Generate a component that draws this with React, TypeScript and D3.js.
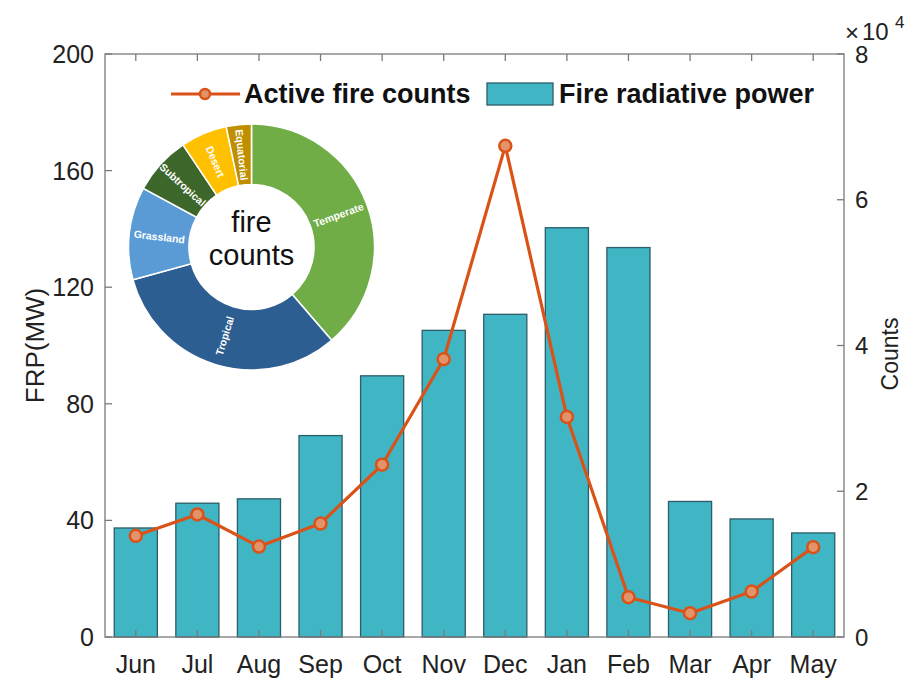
import React from "react";
import * as d3 from "d3";

const months = ["Jun", "Jul", "Aug", "Sep", "Oct", "Nov", "Dec", "Jan", "Feb", "Mar", "Apr", "May"];
const frp = [37.4, 45.9, 47.4, 69.1, 89.6, 105.2, 110.7, 140.4, 133.6, 46.5, 40.5, 35.7];
const fireCounts = [13880, 16810, 12410, 15570, 23640, 38120, 67400, 30200, 5460, 3260, 6230, 12330];
const leftTicks = [0, 40, 80, 120, 160, 200];
const rightTicks = [0, 2, 4, 6, 8];

const zoneNames = ["Temperate", "Tropical", "Grassland", "Subtropical", "Desert", "Equatorial"];
const zoneShares = [38.7, 32.0, 12.2, 7.7, 6.1, 3.3];
const zoneColors = ["#70AD47", "#2D5E91", "#5B9BD5", "#3D662B", "#FFC000", "#BF8F00"];

const W = 911;
const H = 679;
const L = 105;
const R = 844;
const T = 54;
const B = 637;
const FONT = "'Liberation Sans', Arial, sans-serif";
const AXIS = "#7a7a7a";

export default function App() {
  const x = d3.scaleLinear().domain([0.5, 12.5]).range([L, R]);
  const yL = d3.scaleLinear().domain([0, 200]).range([B, T]);
  const yR = d3.scaleLinear().domain([0, 80000]).range([B, T]);
  const step = x(2) - x(1);
  const bw = step * 0.7;

  const line = d3
    .line<number>()
    .x((_, i) => x(i + 1))
    .y((d) => yR(d));

  const cx = 251.5;
  const cy = 247;
  const rOut = 123;
  const rIn = 62.5;
  const pie = d3.pie<number>().sort(null).startAngle(0).endAngle(2 * Math.PI)(zoneShares);
  const arc = d3.arc<d3.PieArcDatum<number>>().innerRadius(rIn).outerRadius(rOut);
  const rLab = (rIn + rOut) / 2;

  return (
    <svg width={W} height={H} style={{ position: "absolute", left: 0, top: 0 }} fontFamily={FONT}>
      <rect x={0} y={0} width={W} height={H} fill="#fff" />
      {/* bars */}
      {frp.map((v, i) => (
        <rect
          key={"b" + i}
          x={x(i + 1) - bw / 2}
          y={yL(v)}
          width={bw}
          height={yL(0) - yL(v)}
          fill="#40B5C4"
          stroke="#2C5D68"
          strokeWidth={1.3}
        />
      ))}
      {/* line */}
      <path d={line(fireCounts) || ""} fill="none" stroke="#D95319" strokeWidth={3.2} strokeLinejoin="round" />
      {fireCounts.map((v, i) => (
        <circle key={"m" + i} cx={x(i + 1)} cy={yR(v)} r={6} fill="#E3936A" stroke="#D95319" strokeWidth={2.5} />
      ))}
      {/* donut */}
      <g transform={`translate(${cx},${cy})`}>
        {pie.map((p, i) => (
          <path key={"s" + i} d={arc(p) || ""} fill={zoneColors[i]} stroke="#fff" strokeWidth={1.5} />
        ))}
        {pie.map((p, i) => {
          const a = (p.startAngle + p.endAngle) / 2;
          const deg = (a * 180) / Math.PI;
          const px = Math.sin(a) * rLab;
          const py = -Math.cos(a) * rLab;
          const rot = deg < 180 ? deg - 90 : deg - 270;
          return (
            <text
              key={"t" + i}
              transform={`translate(${px},${py}) rotate(${rot})`}
              textAnchor="middle"
              dominantBaseline="central"
              fontSize={10.5}
              fontWeight="bold"
              fill="#fff"
            >
              {zoneNames[i]}
            </text>
          );
        })}
        <text x={0} y={-15} textAnchor="middle" fontSize={29} fill="#111">fire</text>
        <text x={0} y={18} textAnchor="middle" fontSize={29} fill="#111">counts</text>
      </g>
      {/* box */}
      <rect x={L} y={T} width={R - L} height={B - T} fill="none" stroke={AXIS} strokeWidth={1.3} />
      {/* left ticks */}
      {leftTicks.map((t) => (
        <g key={"lt" + t}>
          <line x1={L} x2={L + 7} y1={yL(t)} y2={yL(t)} stroke={AXIS} strokeWidth={1.3} />
          <text x={94} y={yL(t)} textAnchor="end" dominantBaseline="central" fontSize={25} fill="#222">
            {t}
          </text>
        </g>
      ))}
      {/* right ticks */}
      {rightTicks.map((t) => (
        <g key={"rt" + t}>
          <line x1={R - 7} x2={R} y1={yR(t * 10000)} y2={yR(t * 10000)} stroke={AXIS} strokeWidth={1.3} />
          <text x={855} y={yR(t * 10000)} textAnchor="start" dominantBaseline="central" fontSize={24} fill="#222">
            {t}
          </text>
        </g>
      ))}
      {/* x ticks */}
      {months.map((m, i) => (
        <g key={"xt" + m}>
          <line x1={x(i + 1)} x2={x(i + 1)} y1={B} y2={B - 7} stroke={AXIS} strokeWidth={1.3} />
          <line x1={x(i + 1)} x2={x(i + 1)} y1={T} y2={T + 7} stroke={AXIS} strokeWidth={1.3} />
          <text x={x(i + 1)} y={673} textAnchor="middle" fontSize={25} fill="#222">
            {m}
          </text>
        </g>
      ))}
      {/* exponent */}
      <text x={845} y={41} fontSize={24} fill="#222">×</text>
      <text x={862} y={40} fontSize={24} fill="#222">10</text>
      <text x={895} y={28} fontSize={17} fill="#222">4</text>
      {/* axis titles */}
      <text transform={`translate(44,${(T + B) / 2}) rotate(-90)`} textAnchor="middle" fontSize={26} fill="#222">
        FRP(MW)
      </text>
      <text transform={`translate(898,354) rotate(-90)`} textAnchor="middle" fontSize={23} fill="#222">
        Counts
      </text>
      {/* legend */}
      <line x1={171} x2={240} y1={94} y2={94} stroke="#D95319" strokeWidth={3.2} />
      <circle cx={205} cy={94} r={5} fill="#E3936A" stroke="#D95319" strokeWidth={2.5} />
      <text x={244} y={103} fontSize={27} fontWeight="bold" fill="#111">Active fire counts</text>
      <rect x={487} y={83} width={66} height={22} fill="#40B5C4" stroke="#2C5D68" strokeWidth={1.3} />
      <text x={559} y={103} fontSize={27} fontWeight="bold" fill="#111">Fire radiative power</text>
    </svg>
  );
}
